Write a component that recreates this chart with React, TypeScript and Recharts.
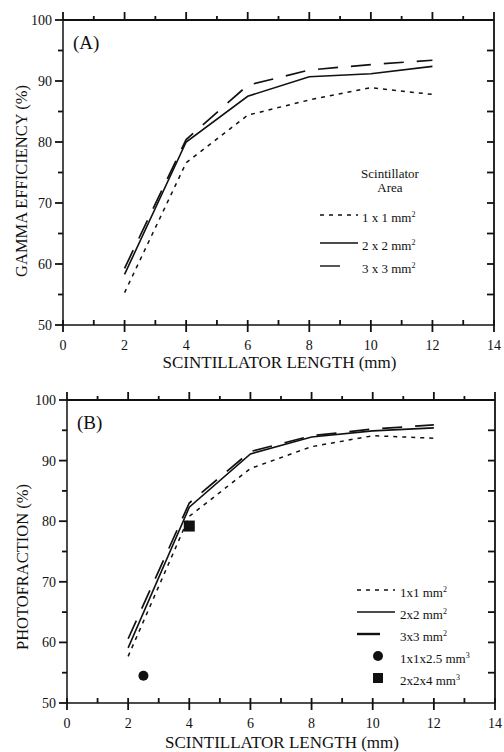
import React from 'react';
import { ComposedChart, Line, Scatter, XAxis, YAxis, Legend, Label } from 'recharts';

// scintillator length (mm) at which each curve was sampled
const lengths = [2, 4, 6, 8, 10, 12];

// (A) gamma efficiency (%)
const gamma1x1 = [55.3, 76.6, 84.4, 86.9, 88.9, 87.8];
const gamma2x2 = [58.3, 80.0, 87.5, 90.7, 91.2, 92.4];
const gamma3x3 = [59.3, 80.4, 89.3, 91.8, 92.7, 93.4];

// (B) photofraction (%)
const photo1x1 = [57.7, 80.8, 88.7, 92.3, 94.1, 93.7];
const photo2x2 = [59.1, 82.3, 91.1, 93.9, 94.9, 95.4];
const photo3x3 = [60.6, 83.0, 91.5, 94.1, 95.2, 95.9];

// single crystals
const crystalCircleLen = [2.5];
const crystalCirclePhoto = [54.5];
const crystalSquareLen = [4];
const crystalSquarePhoto = [79.2];

const xTicks = [0, 1, 2, 3, 4, 5, 6, 7, 8, 9, 10, 11, 12, 13, 14];
const yTicks = [50, 55, 60, 65, 70, 75, 80, 85, 90, 95, 100];

const FONT = '"Liberation Serif", "DejaVu Serif", serif';
const INK = '#111';
const TICK_W = 1.8;

const DOTTED = '4 5';
const LONG_DASH = '20 13';

const serif: React.CSSProperties = { fontFamily: FONT };

function toPoints(xs: number[], ys: number[]) {
  return xs.map((x, i) => ({ x, y: ys[i] }));
}

// bottom tick + matching tick on the top frame (plotH above)
function BottomTick(props: any) {
  const { x, y, payload, plotH } = props;
  const v = payload.value;
  const major = v % 2 === 0;
  const top = Number(y) - Number(plotH);
  return (
    <g>
      <line x1={x} x2={x} y1={y - 5} y2={major ? y + 7 : y} stroke={INK} strokeWidth={TICK_W} />
      <line x1={x} x2={x} y1={top} y2={top - (major ? 8 : 4)} stroke={INK} strokeWidth={TICK_W} />
      {major && (
        <text x={x} y={y + 25} textAnchor="middle" fontSize={14} style={serif} fill={INK}>
          {v}
        </text>
      )}
    </g>
  );
}

// left tick + inward tick on the right frame (plotW to the right)
function LeftTick(props: any) {
  const { x, y, payload, plotW } = props;
  const v = payload.value;
  const major = v % 10 === 0;
  const edge = v === 50 || v === 100;
  const right = Number(x) + Number(plotW);
  return (
    <g>
      <line x1={x - (major ? 8 : 5)} x2={x} y1={y} y2={y} stroke={INK} strokeWidth={TICK_W} />
      {!edge && <line x1={right} x2={right - 7} y1={y} y2={y} stroke={INK} strokeWidth={TICK_W} />}
      {major && (
        <text x={x - 11} y={y + 5} textAnchor="end" fontSize={14} style={serif} fill={INK}>
          {v}
        </text>
      )}
    </g>
  );
}

function Sample({ dash, width = 38, thick = 1.4 }: { dash?: string; width?: number; thick?: number }) {
  return (
    <svg width={width} height={16} style={{ position: 'absolute', left: 0, top: 0 }}>
      <line x1={0} x2={width} y1={8} y2={8} stroke={INK} strokeWidth={thick} strokeDasharray={dash} />
    </svg>
  );
}

const legendText: React.CSSProperties = {
  position: 'absolute',
  fontFamily: FONT,
  fontSize: 13,
  lineHeight: '16px',
  color: INK,
  whiteSpace: 'nowrap',
};

function LegendA() {
  const rows = [
    { label: '1 x 1 mm', dash: DOTTED, top: 47, w: 38 },
    { label: '2 x 2 mm', dash: undefined, top: 75, w: 38 },
    { label: '3 x 3 mm', dash: LONG_DASH, top: 98, w: 20 },
  ];
  return (
    <div style={{ position: 'relative', width: 190, height: 120 }}>
      <div style={{ ...legendText, left: 40, top: 7, width: 100, textAlign: 'center', lineHeight: '14px' }}>
        Scintillator
        <br />
        Area
      </div>
      {rows.map(r => (
        <div key={r.label} style={{ position: 'absolute', left: 20, top: r.top, width: 170, height: 16 }}>
          <Sample dash={r.dash} width={r.w} />
          <span style={{ ...legendText, left: 42, top: 0 }}>
            {r.label}
            <sup style={{ fontSize: 8 }}>2</sup>
          </span>
        </div>
      ))}
    </div>
  );
}

function LegendB() {
  const rows = [
    { label: '1x1 mm', sup: '2', kind: 'dot', top: 7 },
    { label: '2x2 mm', sup: '2', kind: 'solid', top: 29 },
    { label: '3x3 mm', sup: '2', kind: 'long', top: 51 },
    { label: '1x1x2.5 mm', sup: '3', kind: 'circle', top: 73 },
    { label: '2x2x4 mm', sup: '3', kind: 'square', top: 95 },
  ];
  return (
    <div style={{ position: 'relative', width: 164, height: 115 }}>
      {rows.map(r => (
        <div key={r.label} style={{ position: 'absolute', left: 17, top: r.top, width: 150, height: 16 }}>
          {r.kind === 'dot' && <Sample dash={DOTTED} />}
          {r.kind === 'solid' && <Sample />}
          {r.kind === 'long' && <Sample width={23} thick={2.4} />}
          {r.kind === 'circle' && (
            <svg width={38} height={16} style={{ position: 'absolute', left: 0, top: 0 }}>
              <circle cx={21} cy={8} r={5} fill={INK} />
            </svg>
          )}
          {r.kind === 'square' && (
            <svg width={38} height={16} style={{ position: 'absolute', left: 0, top: 0 }}>
              <rect x={16} y={3} width={10} height={10} fill={INK} />
            </svg>
          )}
          <span style={{ ...legendText, left: 43, top: 0 }}>
            {r.label}
            <sup style={{ fontSize: 8 }}>{r.sup}</sup>
          </span>
        </div>
      ))}
    </div>
  );
}

interface PanelProps {
  height: number;
  marginTop: number;
  marginLeft: number;
  marginRight: number;
  xAxisHeight: number;
  panel: string;
  yTitle: string;
  yTitleX: number;
  yTitleCenter: number;
  xTitleDrop: number;
  s1: number[];
  s2: number[];
  s3: number[];
  withCrystals?: boolean;
  legend: React.ReactElement;
  legendPos: { left: number; top: number };
}

function Panel(p: PanelProps) {
  // the top x axis and the right y axis each take 1px
  const plotLeft = p.marginLeft + 45;
  const plotRight = 504 - p.marginRight - 1;
  const plotBottom = p.height - p.xAxisHeight;
  const plotTop = p.marginTop + 1;
  const plotW = plotRight - plotLeft;
  const plotH = plotBottom - plotTop;
  return (
    <ComposedChart
      width={504}
      height={p.height}
      margin={{ top: p.marginTop, right: p.marginRight, bottom: 0, left: p.marginLeft }}
      style={serif}
    >
      <XAxis
        xAxisId="b"
        dataKey="x"
        type="number"
        domain={[0, 14]}
        ticks={xTicks}
        interval={0}
        height={p.xAxisHeight}
        tickSize={0}
        tickMargin={0}
        tick={(t: any) => BottomTick({ ...t, plotH })}
        axisLine={{ stroke: INK, strokeWidth: 1.5 }}
      >
        <Label
          content={() => (
            <text
              x={(plotLeft + plotRight) / 2 + 1}
              y={plotBottom + p.xTitleDrop}
              textAnchor="middle"
              fontSize={17}
              style={serif}
              fill={INK}
            >
              SCINTILLATOR LENGTH (mm)
            </text>
          )}
        />
      </XAxis>
      <XAxis
        xAxisId="t"
        orientation="top"
        dataKey="x"
        type="number"
        domain={[0, 14]}
        height={1}
        tick={false}
        tickLine={false}
        axisLine={{ stroke: INK, strokeWidth: 2 }}
      >
        <Label
          content={() => (
            <text x={plotLeft + 10} y={plotTop + 29} fontSize={19} style={serif} fill={INK}>
              {p.panel}
            </text>
          )}
        />
      </XAxis>
      <YAxis
        yAxisId="l"
        type="number"
        domain={[50, 100]}
        ticks={yTicks}
        interval={0}
        width={45}
        tickSize={0}
        tickMargin={0}
        tick={(t: any) => LeftTick({ ...t, plotW })}
        axisLine={{ stroke: INK, strokeWidth: 1.5 }}
      >
        <Label
          content={() => (
            <text
              transform={`translate(${p.yTitleX},${p.yTitleCenter}) rotate(-90)`}
              textAnchor="middle"
              dominantBaseline="central"
              fontSize={16.5}
              style={serif}
              fill={INK}
            >
              {p.yTitle}
            </text>
          )}
        />
      </YAxis>
      <YAxis
        yAxisId="r"
        orientation="right"
        type="number"
        domain={[50, 100]}
        width={1}
        tick={false}
        tickLine={false}
        axisLine={{ stroke: INK, strokeWidth: 1.8 }}
      />
      <Legend
        layout="horizontal"
        verticalAlign="middle"
        align="center"
        content={() => p.legend}
        wrapperStyle={{ left: p.legendPos.left, top: p.legendPos.top, width: 190, height: 120 }}
      />
      <Line
        xAxisId="b"
        yAxisId="l"
        data={toPoints(lengths, p.s1)}
        dataKey="y"
        type="linear"
        stroke={INK}
        strokeWidth={1.5}
        strokeDasharray={DOTTED}
        dot={false}
        isAnimationActive={false}
      />
      <Line
        xAxisId="b"
        yAxisId="l"
        data={toPoints(lengths, p.s2)}
        dataKey="y"
        type="linear"
        stroke={INK}
        strokeWidth={1.6}
        dot={false}
        isAnimationActive={false}
      />
      <Line
        xAxisId="b"
        yAxisId="l"
        data={toPoints(lengths, p.s3)}
        dataKey="y"
        type="linear"
        stroke={INK}
        strokeWidth={1.7}
        strokeDasharray={LONG_DASH}
        dot={false}
        isAnimationActive={false}
      />
      {p.withCrystals && (
        <Scatter
          xAxisId="b"
          yAxisId="l"
          data={toPoints(crystalCircleLen, crystalCirclePhoto)}
          dataKey="y"
          isAnimationActive={false}
          shape={(s: any) => <circle cx={s.cx} cy={s.cy} r={5} fill={INK} />}
        />
      )}
      {p.withCrystals && (
        <Scatter
          xAxisId="b"
          yAxisId="l"
          data={toPoints(crystalSquareLen, crystalSquarePhoto)}
          dataKey="y"
          isAnimationActive={false}
          shape={(s: any) => <rect x={s.cx - 5.5} y={s.cy - 5.5} width={11} height={11} fill={INK} />}
        />
      )}
    </ComposedChart>
  );
}

export default function App() {
  return (
    <div style={{ position: 'absolute', left: 0, top: 0, width: 504, height: 752, background: '#fff' }}>
      <div style={{ position: 'absolute', left: 0, top: 0 }}>
        <Panel
          height={375}
          marginTop={19}
          marginLeft={18}
          marginRight={9}
          xAxisHeight={50}
          panel="(A)"
          yTitle="GAMMA EFFICIENCY (%)"
          yTitleX={21}
          yTitleCenter={181}
          xTitleDrop={43}
          s1={gamma1x1}
          s2={gamma2x2}
          s3={gamma3x3}
          legend={<LegendA />}
          legendPos={{ left: 300, top: 160 }}
        />
      </div>
      <div style={{ position: 'absolute', left: 0, top: 375 }}>
        <Panel
          height={377}
          marginTop={24}
          marginLeft={22}
          marginRight={8}
          xAxisHeight={49}
          panel="(B)"
          yTitle="PHOTOFRACTION (%)"
          yTitleX={22}
          yTitleCenter={192}
          xTitleDrop={44.5}
          s1={photo1x1}
          s2={photo2x2}
          s3={photo3x3}
          withCrystals
          legend={<LegendB />}
          legendPos={{ left: 340, top: 200 }}
        />
      </div>
    </div>
  );
}
